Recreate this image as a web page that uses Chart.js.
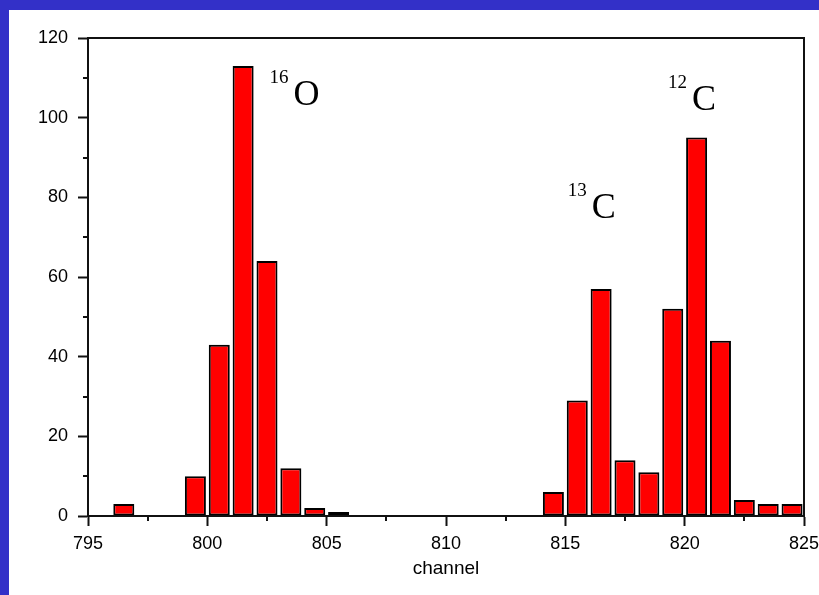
<!DOCTYPE html>
<html>
<head>
<meta charset="utf-8">
<script src="https://cdn.jsdelivr.net/npm/chart.js@4/dist/chart.umd.min.js"></script>
<style>
  html, body { margin: 0; padding: 0; background: #3330c8; }
  body { width: 819px; height: 595px; position: relative; overflow: hidden; }
  #frame { position: absolute; left: 9px; top: 10px; width: 810px; height: 585px; background: #fff; }
</style>
</head>
<body>
<div id="frame"><canvas id="spectrum" width="810" height="585"></canvas></div>
<script>
// counts per channel (only non-empty channels listed)
const channels = [796, 799, 800, 801, 802, 803, 804, 805, 814, 815, 816, 817, 818, 819, 820, 821, 822, 823, 824]
const counts   = [3,   10,  43,  113, 64,  12,  2,   1,   6,   29,  57,  14,  11,  52,  95,  44,  4,   3,   3]

// isotope labels, anchored in channel / count units
const isotope_masses   = ['16', '13', '12']
const isotope_elements = ['O', 'C', 'C']
const isotope_channels = [802.6, 815.1, 819.3]
const isotope_counts   = [103.2, 74.8, 101.9]

const bars = channels.map((ch, i) => ({x: ch + 0.5, y: counts[i]}))

Chart.defaults.font.family = '"Liberation Sans", Arial, sans-serif'
Chart.defaults.font.size = 18
Chart.defaults.color = '#000'

// frame around the plot plus the short minor ticks
const frame_plugin = {
    id: 'frame',
    afterDraw(chart)
    {
        const c = chart.ctx
        const a = chart.chartArea
        c.save()
        c.strokeStyle = '#111'
        c.lineWidth = 2
        c.strokeRect(a.left, a.top, a.right - a.left, a.bottom - a.top)

        const xs = chart.scales.x
        const ys = chart.scales.y
        c.beginPath()
        xs.ticks.forEach(t => {
            if (t.value % 5 !== 0) {
                const px = Math.round(xs.getPixelForValue(t.value))
                c.moveTo(px, a.bottom)
                c.lineTo(px, a.bottom + 5)
            }
        })
        ys.ticks.forEach(t => {
            if (t.value % 20 !== 0) {
                const py = Math.round(ys.getPixelForValue(t.value))
                c.moveTo(a.left - 5, py)
                c.lineTo(a.left, py)
            }
        })
        c.stroke()
        c.restore()
    }
}

const isotope_plugin = {
    id: 'isotopes',
    afterDatasetsDraw(chart)
    {
        const c = chart.ctx
        const xs = chart.scales.x
        const ys = chart.scales.y
        c.save()
        c.fillStyle = '#000'
        c.textBaseline = 'alphabetic'
        c.textAlign = 'left'
        isotope_masses.forEach((mass, i) => {
            const px = xs.getPixelForValue(isotope_channels[i])
            const py = ys.getPixelForValue(isotope_counts[i])
            c.font = '19px "Liberation Serif", "Times New Roman", serif'
            c.fillText(mass, px, py - 22)
            const w = c.measureText(mass).width
            c.font = '36px "Liberation Serif", "Times New Roman", serif'
            c.fillText(isotope_elements[i], px + w + 5, py)
        })
        c.restore()
    }
}

const ctx = document.getElementById('spectrum').getContext('2d')
const spectrum_chart = new Chart(ctx, {
    type: 'bar',
    data: {
        datasets: [
            {
                data: bars,
                backgroundColor: '#ff0000',
                borderColor: '#000',
                borderWidth: 2,
                borderSkipped: false,
                barPercentage: 0.88,
                categoryPercentage: 1.0
            }
        ]
    },
    options: {
        responsive: false,
        animation: false,
        layout: { padding: { top: 28, right: 15, left: 0, bottom: 0 } },
        plugins: {
            legend: { display: false },
            tooltip: { enabled: false }
        },
        scales: {
            x: {
                type: 'linear',
                min: 795,
                max: 825,
                offset: false,
                afterFit: s => {
                    s.height = 79
                    s.paddingLeft = 0
                    s.paddingRight = 0
                },
                border: { display: true, color: '#111', width: 2 },
                grid: {
                    offset: false,
                    drawOnChartArea: false,
                    tickLength: 10,
                    tickWidth: 2,
                    tickColor: c => c.tick && c.tick.value % 5 === 0 ? '#111' : 'rgba(0,0,0,0)'
                },
                ticks: {
                    stepSize: 2.5,
                    autoSkip: false,
                    maxRotation: 0,
                    padding: 7,
                    callback: v => v % 5 === 0 ? v : ''
                },
                title: {
                    display: true,
                    text: 'channel',
                    font: { size: 19 },
                    padding: { top: 0, bottom: 15 }
                }
            },
            y: {
                min: 0,
                max: 120,
                afterFit: s => { s.width = 79 },
                border: { display: true, color: '#111', width: 2 },
                grid: {
                    drawOnChartArea: false,
                    tickLength: 10,
                    tickWidth: 2,
                    tickColor: c => c.tick && c.tick.value % 20 === 0 ? '#111' : 'rgba(0,0,0,0)'
                },
                ticks: {
                    stepSize: 10,
                    padding: 10,
                    callback: v => v % 20 === 0 ? v : ''
                }
            }
        }
    },
    plugins: [frame_plugin, isotope_plugin]
})
</script>
</body>
</html>
